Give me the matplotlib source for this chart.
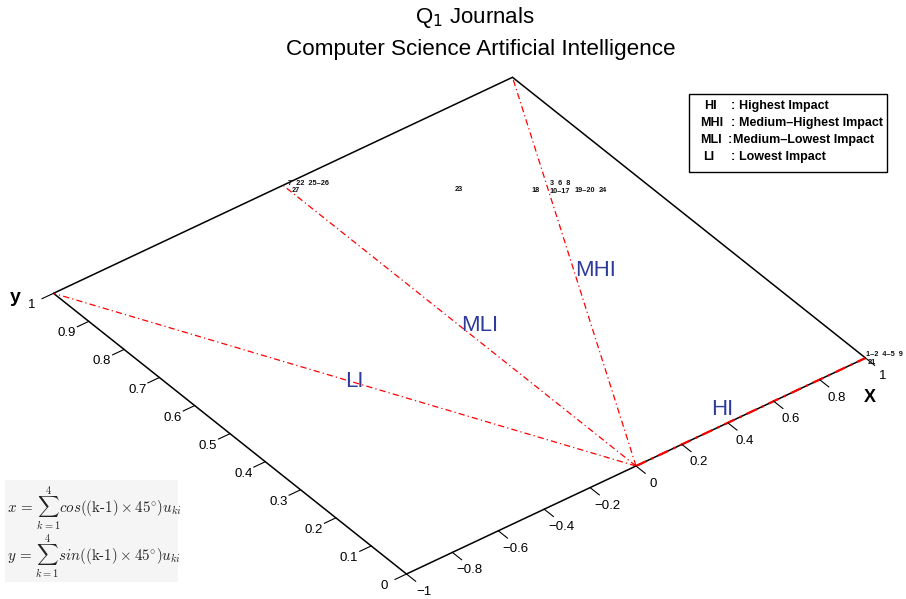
import matplotlib
matplotlib.use("Agg")
import matplotlib.pyplot as plt
from matplotlib.transforms import Affine2D
from matplotlib.patches import Rectangle

plt.rcParams['font.family'] = ['Liberation Sans', 'DejaVu Sans']

# ---- data ----
# membership-weighted positions of journal groups (x, y) and their labels
point_labels = ["1\u20132  4\u20135  9", "21", "7  22  25\u201326", "27", "23", "18",
                "3  6  8", "10\u201317", "19\u201320", "24"]
point_x = [1.015, 0.99, 0.02, 0.005, 0.457, 0.665, 0.737, 0.709, 0.78, 0.845]
point_y = [0.007, -0.012, 1.0, 0.98, 0.81, 0.727, 0.724, 0.706, 0.68, 0.655]

# class direction lines (from origin to box boundary)
class_names = ["HI", "MHI", "MLI", "LI"]
class_end_x = [1, 1, 0, -1]
class_end_y = [0, 1, 1, 1]
class_label_x = [0.428, 0.562, 0.055, -0.479]
class_label_y = [0.035, 0.479, 0.478, 0.487]

x_ticks = [-1, -0.8, -0.6, -0.4, -0.2, 0, 0.2, 0.4, 0.6, 0.8, 1]
x_tick_labels = ["\u22121", "\u22120.8", "\u22120.6", "\u22120.4", "\u22120.2", "0",
                 "0.2", "0.4", "0.6", "0.8", "1"]
y_ticks = [0, 0.1, 0.2, 0.3, 0.4, 0.5, 0.6, 0.7, 0.8, 0.9, 1]
y_tick_labels = ["0", "0.1", "0.2", "0.3", "0.4", "0.5", "0.6", "0.7", "0.8", "0.9", "1"]

legend_abbr = ["HI", "MHI", "MLI", "LI"]
legend_desc = ["Highest Impact", "Medium\u2013Highest Impact", "Medium\u2013Lowest Impact", "Lowest Impact"]

W, H = 906, 599
fig = plt.figure(figsize=(W / 100, H / 100), dpi=100)
ax = fig.add_axes([0, 0, 1, 1])
ax.set_xlim(0, W)
ax.set_ylim(H, 0)
ax.axis('off')

# oblique view of the (x, y) plane
view = Affine2D.from_values(229.5, -108.0, -353.0, -280.7, 636.0, 466.0)
T = view + ax.transData

# box
ax.plot([-1, 1, 1, -1, -1], [0, 0, 1, 1, 0], color='black', lw=1.1, transform=T,
        solid_joinstyle='miter')

# class lines
for i, name in enumerate(class_names):
    lw = 1.6 if name == "HI" else 0.9
    ax.plot([0, class_end_x[i]], [0, class_end_y[i]], color='red', lw=lw,
            linestyle=(0, (5, 2.5, 1, 2.5)), transform=T)
    ax.text(class_label_x[i], class_label_y[i], name, transform=T, color='#2d3c9c',
            fontsize=16, ha='center', va='center')

# x ticks
for xt, lab in zip(x_ticks, x_tick_labels):
    ax.plot([xt, xt], [0, -0.026], color='black', lw=0.8, transform=T)
    ax.text(xt - 0.015, -0.058, lab, transform=T, fontsize=9.5, ha='center', va='center')
# y ticks
for yt, lab in zip(y_ticks, y_tick_labels):
    ax.plot([-1, -1.05], [yt, yt], color='black', lw=0.8, transform=T)
    ax.text(-1.1015, yt - 0.0037, lab, transform=T, fontsize=9.5, ha='center', va='center')

ax.text(0.875, -0.094, "X", transform=T, fontsize=13, fontweight='bold', ha='center', va='center')
ax.text(-1.118, 1.032, "y", transform=T, fontsize=14, fontweight='bold', ha='center', va='center')

# point labels
for lab, px, py in zip(point_labels, point_x, point_y):
    ax.text(px, py, lab, transform=T, fontsize=5.3, fontweight='bold', ha='left',
            va='center', color='#111111')

# titles
fig.text(475 / W, 1 - 17 / H, r"Q$_1$ Journals", fontsize=16, ha='center', va='center')
fig.text(481 / W, 1 - 50 / H, "Computer Science Artificial Intelligence", fontsize=16.2,
         ha='center', va='center')

# legend box
fig.add_artist(Rectangle((689 / W, 1 - 172 / H), (887 - 689) / W, (172 - 94) / H,
                         transform=fig.transFigure, facecolor='white', edgecolor='black', lw=1.0))
ys = [106, 123, 140, 157]
abbr_x = [704, 700, 700, 703]
colon_x = [731, 731, 728, 731]
desc_x = [739, 739, 733, 739]
for i in range(4):
    fig.text(abbr_x[i] / W, 1 - ys[i] / H, legend_abbr[i], fontsize=9, fontweight='bold',
             ha='left', va='center')
    fig.text(colon_x[i] / W, 1 - ys[i] / H, ":", fontsize=9, fontweight='bold',
             ha='left', va='center')
    fig.text(desc_x[i] / W, 1 - ys[i] / H, legend_desc[i], fontsize=9, fontweight='bold',
             ha='left', va='center')

# formula box
fig.add_artist(Rectangle((5 / W, 1 - 582 / H), (178 - 5) / W, (582 - 480) / H,
                         transform=fig.transFigure, facecolor='#f5f5f5', edgecolor='none'))
fig.text(7 / W, 1 - 508 / H,
         r"$x\,=\,\sum_{k=1}^{4} cos((\mathrm{k}\text{-}1) \times 45^{\circ}) u_{ki}$",
         fontsize=10.8, ha='left', va='center', math_fontfamily='cm', color='#222222')
fig.text(7 / W, 1 - 556 / H,
         r"$y\,=\,\sum_{k=1}^{4} sin((\mathrm{k}\text{-}1) \times 45^{\circ}) u_{ki}$",
         fontsize=10.8, ha='left', va='center', math_fontfamily='cm', color='#222222')

fig.savefig("out.png", dpi=100)
